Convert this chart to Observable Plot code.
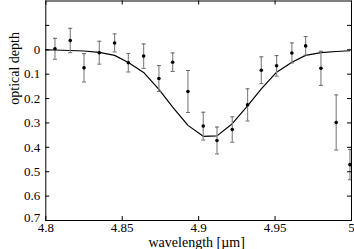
<!DOCTYPE html>
<html>
<head>
<meta charset="utf-8">
<script src="https://cdn.jsdelivr.net/npm/d3@7"></script>
<script src="https://cdn.jsdelivr.net/npm/@observablehq/plot@0.6"></script>
<style>
  html, body { margin: 0; padding: 0; background: #fff; overflow: hidden; }
  #chart svg, #chart svg text { font-family: "Liberation Serif", "Times New Roman", Times, serif !important; }
</style>
</head>
<body>
<div id="chart"></div>
<script>
const wavelength = [4.806, 4.816, 4.825, 4.835, 4.845, 4.854, 4.864, 4.874, 4.883, 4.893, 4.903,
                    4.912, 4.922, 4.932, 4.941, 4.951, 4.961, 4.970, 4.980, 4.990, 4.999];
const depth = [-0.004, -0.038, 0.074, 0.012, -0.028, 0.053, 0.026, 0.118, 0.051, 0.171, 0.313,
               0.372, 0.327, 0.226, 0.084, 0.066, 0.013, -0.016, 0.076, 0.298, 0.471];
const err = [0.043, 0.050, 0.058, 0.047, 0.037, 0.038, 0.050, 0.053, 0.038, 0.086, 0.057,
             0.055, 0.052, 0.066, 0.055, 0.042, 0.041, 0.038, 0.070, 0.113, 0.062];
const modelWavelength = [4.800, 4.806, 4.816, 4.825, 4.835, 4.845, 4.854, 4.864, 4.874, 4.883, 4.893,
                         4.903, 4.912, 4.922, 4.932, 4.941, 4.951, 4.961, 4.970, 4.980, 4.990, 4.999];
const modelDepth = [0.000, 0.001, 0.003, 0.005, 0.011, 0.023, 0.052, 0.093, 0.162, 0.235, 0.310,
                    0.355, 0.353, 0.303, 0.230, 0.160, 0.092, 0.051, 0.023, 0.012, 0.007, 0.004];
const xTicks = [4.8, 4.85, 4.9, 4.95, 5.0];
const xTickLabels = ["4.8", "4.85", "4.9", "4.95", "5"];
const yTicks = [-0.1, 0, 0.1, 0.2, 0.3, 0.4, 0.5, 0.6, 0.7];
const yTickLabels = ["", "0", "0.1", "0.2", "0.3", "0.4", "0.5", "0.6", "0.7"];

const obs = wavelength.map((w, i) => ({w, d: depth[i], lo: depth[i] - err[i], hi: depth[i] + err[i]}));
const model = modelWavelength.map((w, i) => ({w, d: modelDepth[i]}));
const yLab = yTicks.map((v, i) => ({v, t: yTickLabels[i]}));

const W = 354, H = 249;
const mL = 45.3, mR = 3, mT = 0.5, mB = 29;
const plotW = W - mL - mR, plotH = H - mT - mB;
const tickLen = 4;
const serif = "Liberation Serif";

const capSymbol = {
  draw(context, size) {
    const w = 2;
    context.moveTo(-w, 0);
    context.lineTo(w, 0);
  }
};

const chart = Plot.plot({
  width: W,
  height: H,
  marginLeft: mL,
  marginRight: mR,
  marginTop: mT,
  marginBottom: mB,
  style: {fontFamily: serif, fontSize: "13px", color: "#000", background: "#fff", overflow: "visible"},
  x: {domain: [4.8, 5.0], axis: null},
  y: {domain: [-0.2, 0.7], reverse: true, axis: null},
  marks: [
    Plot.line(model, {x: "w", y: "d", stroke: "#000", strokeWidth: 1.2}),
    Plot.ruleX(obs, {x: "w", y1: "lo", y2: "hi", stroke: "#888", strokeWidth: 1.2}),
    Plot.dot(obs, {x: "w", y: "lo", symbol: capSymbol, stroke: "#666", strokeWidth: 1, r: 2}),
    Plot.dot(obs, {x: "w", y: "hi", symbol: capSymbol, stroke: "#666", strokeWidth: 1, r: 2}),
    Plot.dot(obs, {x: "w", y: "d", fill: "#000", r: 1.8}),
    Plot.tickX(xTicks, {x: d => d, insetTop: plotH - tickLen, stroke: "#000"}),
    Plot.tickX(xTicks, {x: d => d, insetBottom: plotH - tickLen, stroke: "#000"}),
    Plot.tickY(yTicks, {y: d => d, insetRight: plotW - tickLen, stroke: "#000"}),
    Plot.tickY(yTicks, {y: d => d, insetLeft: plotW - tickLen, stroke: "#000"}),
    Plot.frame({stroke: "#000", strokeWidth: 1}),
    Plot.text(xTicks, {x: d => d, frameAnchor: "bottom", dy: 7.5, text: (d, i) => xTickLabels[i], lineAnchor: "middle", fill: "#000", fontSize: 13, fontFamily: serif}),
    Plot.text(yLab.slice(0, -1), {y: "v", frameAnchor: "left", dx: -5.5, text: "t", textAnchor: "end", lineAnchor: "middle", fill: "#000", fontSize: 13, fontFamily: serif}),
    Plot.text(yLab.slice(-1), {y: "v", frameAnchor: "left", dx: -5.5, dy: -3, text: "t", textAnchor: "end", lineAnchor: "middle", fill: "#000", fontSize: 13, fontFamily: serif}),
    Plot.text(["wavelength [µm]"], {frameAnchor: "bottom", dx: -2, dy: 21.6, text: d => d, lineAnchor: "middle", fill: "#000", fontSize: 14, fontFamily: serif}),
    Plot.text(["optical depth"], {frameAnchor: "left", dx: -30.8, dy: -6, rotate: -90, text: d => d, lineAnchor: "middle", fill: "#000", fontSize: 14, fontFamily: serif})
  ]
});
document.getElementById("chart").appendChild(chart);
</script>
</body>
</html>
